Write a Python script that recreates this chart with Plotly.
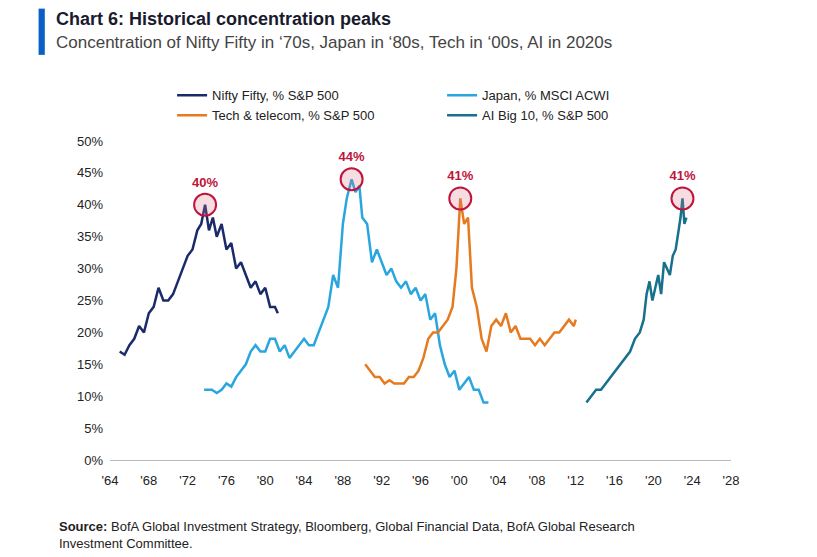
import plotly.graph_objects as go

# year, % share
nifty_x = [1965.0, 1965.5, 1966.0, 1966.5, 1967.0, 1967.5, 1968.0, 1968.5, 1969.0, 1969.5, 1970.0, 1970.5, 1971.0, 1971.5, 1972.0, 1972.5, 1973.0, 1973.4, 1973.8, 1974.2, 1974.6, 1975.0, 1975.5, 1976.0, 1976.5, 1977.0, 1977.5, 1978.0, 1978.5, 1979.0, 1979.5, 1980.0, 1980.5, 1981.0, 1981.3]
nifty_y = [17, 16.5, 18, 19, 21, 20, 23, 24, 27, 25, 25, 26, 28, 30, 32, 33, 36, 37, 40, 36, 38, 35, 37, 33, 34, 30, 31, 29, 27, 28, 26, 27, 24, 24, 23]

japan_x = [1973.7, 1974.5, 1975.0, 1975.5, 1976.0, 1976.5, 1977.0, 1977.5, 1978.0, 1978.5, 1979.0, 1979.5, 1980.0, 1980.5, 1981.0, 1981.5, 1982.0, 1982.5, 1983.0, 1983.5, 1984.0, 1984.5, 1985.0, 1985.5, 1986.0, 1986.5, 1987.0, 1987.5, 1988.0, 1988.4, 1988.9, 1989.3, 1989.7, 1990.0, 1990.5, 1991.0, 1991.5, 1992.0, 1992.5, 1993.0, 1993.5, 1994.0, 1994.5, 1995.0, 1995.5, 1996.0, 1996.5, 1997.0, 1997.5, 1998.0, 1998.5, 1999.0, 1999.5, 2000.0, 2000.5, 2001.0, 2001.5, 2002.0, 2002.5, 2003.0]
japan_y = [11, 11, 10.5, 11, 12, 11.5, 13, 14, 15, 17, 18, 17, 17, 19, 19, 17, 18, 16, 17, 18, 19, 18, 18, 20, 22, 24, 29, 27, 37, 41, 44, 42, 43, 38, 37, 31, 33, 31, 29, 30, 28, 27, 28, 26, 27, 25, 26, 22, 23, 18, 15, 13, 14, 11, 12, 13, 11, 11, 9, 9]

tech_x = [1990.3, 1990.8, 1991.3, 1991.8, 1992.3, 1992.8, 1993.3, 1993.8, 1994.3, 1994.8, 1995.3, 1995.8, 1996.3, 1996.8, 1997.3, 1997.8, 1998.3, 1998.8, 1999.3, 1999.7, 2000.1, 2000.5, 2000.9, 2001.3, 2001.8, 2002.3, 2002.8, 2003.3, 2003.8, 2004.3, 2004.8, 2005.3, 2005.8, 2006.3, 2006.8, 2007.3, 2007.8, 2008.3, 2008.8, 2009.3, 2009.8, 2010.3, 2010.8, 2011.3, 2011.8, 2012.0]
tech_y = [15, 14, 13, 13, 12, 12.5, 12, 12, 12, 13, 13, 14, 16, 19, 20, 20, 21, 22, 24, 30, 41, 37, 38, 27, 24, 19, 17, 21, 22, 21, 23, 20, 21, 19, 19, 19, 18, 19, 18, 19, 20, 20, 21, 22, 21, 22]

ai_x = [2013.1, 2013.6, 2014.1, 2014.6, 2015.1, 2015.6, 2016.1, 2016.6, 2017.1, 2017.6, 2018.1, 2018.6, 2019.0, 2019.3, 2019.6, 2019.9, 2020.2, 2020.5, 2020.8, 2021.1, 2021.4, 2021.7, 2022.0, 2022.3, 2022.6, 2022.8, 2023.0, 2023.2, 2023.4]
ai_y = [9, 10, 11, 11, 12, 13, 14, 15, 16, 17, 19, 20, 22, 26, 28, 25, 27, 29, 26, 31, 30, 29, 32, 33, 36, 38, 41, 37, 38]

series = [
    ("Nifty Fifty, % S&P 500", nifty_x, nifty_y, "#1b2a6b"),
    ("Japan, % MSCI ACWI", japan_x, japan_y, "#2aa6df"),
    ("Tech & telecom, % S&P 500", tech_x, tech_y, "#e57a1f"),
    ("AI Big 10, % S&P 500", ai_x, ai_y, "#17708c"),
]
peak_labels = ["40%", "44%", "41%", "41%"]

fig = go.Figure()
for name, xs, ys, col in series:
    fig.add_trace(go.Scatter(x=xs, y=ys, name=name, mode="lines",
                             line=dict(color=col, width=2.5)))

for (name, xs, ys, col), lab in zip(series, peak_labels):
    i = ys.index(max(ys))
    fig.add_trace(go.Scatter(x=[xs[i]], y=[ys[i]], mode="markers+text", showlegend=False,
                             cliponaxis=False,
                             marker=dict(size=22, color="rgba(220,120,140,0.25)",
                                         line=dict(color="#c0143c", width=2)),
                             text=["<b>" + lab + "</b>"], textposition="top center",
                             textfont=dict(color="#c0143c", size=13)))

years = list(range(1964, 2029, 4))
fig.update_xaxes(range=[1964, 2028], tickvals=years,
                 ticktext=["'" + str(y)[2:] for y in years],
                 showgrid=False, zeroline=False, showline=True, linecolor="#bbb",
                 ticklabelstandoff=8, tickfont=dict(size=13, color="#222"))
fig.update_yaxes(range=[0, 50], dtick=5, ticksuffix="%", showgrid=False, zeroline=False,
                 ticklabelstandoff=6, tickfont=dict(size=13, color="#222"))

fig.add_shape(type="rect", xref="paper", yref="paper", x0=-0.115, x1=-0.105, y0=1.27, y1=1.415,
              fillcolor="#0a5fc4", line_width=0)
fig.add_annotation(text="<b>Chart 6: Historical concentration peaks</b>", xref="paper", yref="paper",
                   x=-0.09, y=1.42, xanchor="left", yanchor="top", showarrow=False,
                   font=dict(size=18, color="#1a1a2e"))
fig.add_annotation(text="Concentration of Nifty Fifty in ‘70s, Japan in ‘80s, Tech in ‘00s, AI in 2020s",
                   xref="paper", yref="paper", x=-0.09, y=1.345, xanchor="left", yanchor="top",
                   showarrow=False, font=dict(size=17, color="#444"))
fig.add_annotation(text="<b>Source:</b> BofA Global Investment Strategy, Bloomberg, Global Financial Data, BofA Global Research<br>Investment Committee.",
                   xref="paper", yref="paper", x=-0.085, y=-0.18, xanchor="left", yanchor="top",
                   align="left", showarrow=False, font=dict(size=13, color="#222"))

fig.update_layout(
    width=817, height=557, plot_bgcolor="white", paper_bgcolor="white",
    margin=dict(l=102, r=94, t=133, b=105),
    font=dict(family="Liberation Sans, Arial, sans-serif"),
    legend=dict(orientation="h", x=0.1, y=1.19, xanchor="left", yanchor="top",
                entrywidth=225, font=dict(size=13, color="#222"), tracegroupgap=0),
)
fig.write_html("out.html")
